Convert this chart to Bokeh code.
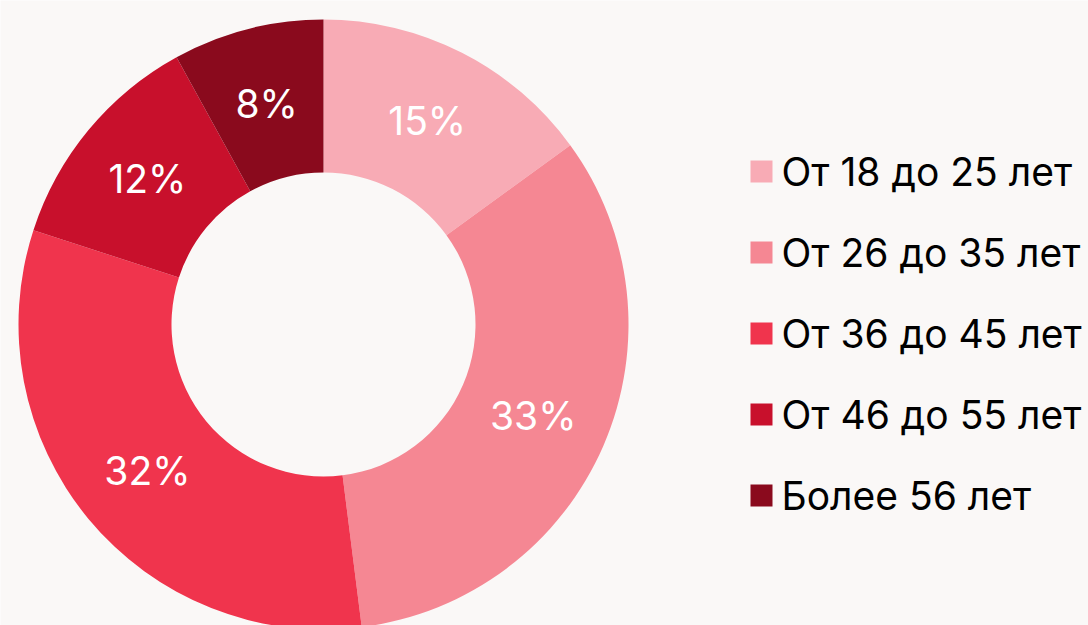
import numpy as np
from bokeh.plotting import figure
from bokeh.models import ColumnDataSource
from bokeh.core.properties import value
from bokeh.embed import file_html
from bokeh.resources import INLINE

categories = ["От 18 до 25 лет", "От 26 до 35 лет", "От 36 до 45 лет", "От 46 до 55 лет", "Более 56 лет"]
shares = [15, 33, 32, 12, 8]
colors = ["#F8ABB5", "#F58793", "#F0344D", "#C8102C", "#8A0A1D"]
labels = [f"{s}%" for s in shares]

W, H = 1088, 625
BG = "#FAF8F7"
cx, cy = 323, H - 324
r_out, r_in = 305, 152

frac = np.array(shares) / sum(shares)
cum = np.concatenate([[0], np.cumsum(frac)])
start = np.pi / 2 - 2 * np.pi * cum[:-1]
end = np.pi / 2 - 2 * np.pi * cum[1:]
mid = (start + end) / 2
r_mid = (r_out + r_in) / 2

src = ColumnDataSource(dict(
    cat=categories, start=start, end=end, color=colors, label=labels,
    lx=cx + r_mid * np.cos(mid), ly=cy + r_mid * np.sin(mid),
))

p = figure(width=W, height=H, x_range=(0, W), y_range=(0, H),
           output_backend="svg", toolbar_location=None, min_border=0,
           background_fill_color=BG, border_fill_color=BG)
p.axis.visible = False
p.grid.visible = False
p.outline_line_color = None

p.annular_wedge(x=cx, y=cy, inner_radius=r_in, outer_radius=r_out,
                start_angle="start", end_angle="end", direction="clock",
                fill_color="color", line_color=None, source=src)
p.text(x="lx", y="ly", text="label", source=src, text_color="white",
       text_font=value("Inter"), text_font_size="39px",
       text_align="center", text_baseline="middle")

# legend
n = len(categories)
row = 81
top_c = H - 171
leg = ColumnDataSource(dict(
    x=[761] * n, y=[top_c - i * row for i in range(n)],
    tx=[781] * n, cat=categories, color=colors,
))
p.rect(x="x", y="y", width=22, height=22, fill_color="color", line_color=None, source=leg)
p.text(x="tx", y="y", text="cat", source=leg, text_color="#000000",
       text_font=value("Inter"), text_font_size="39px",
       text_align="left", text_baseline="middle")

open("out.html", "w").write(file_html(p, INLINE))
